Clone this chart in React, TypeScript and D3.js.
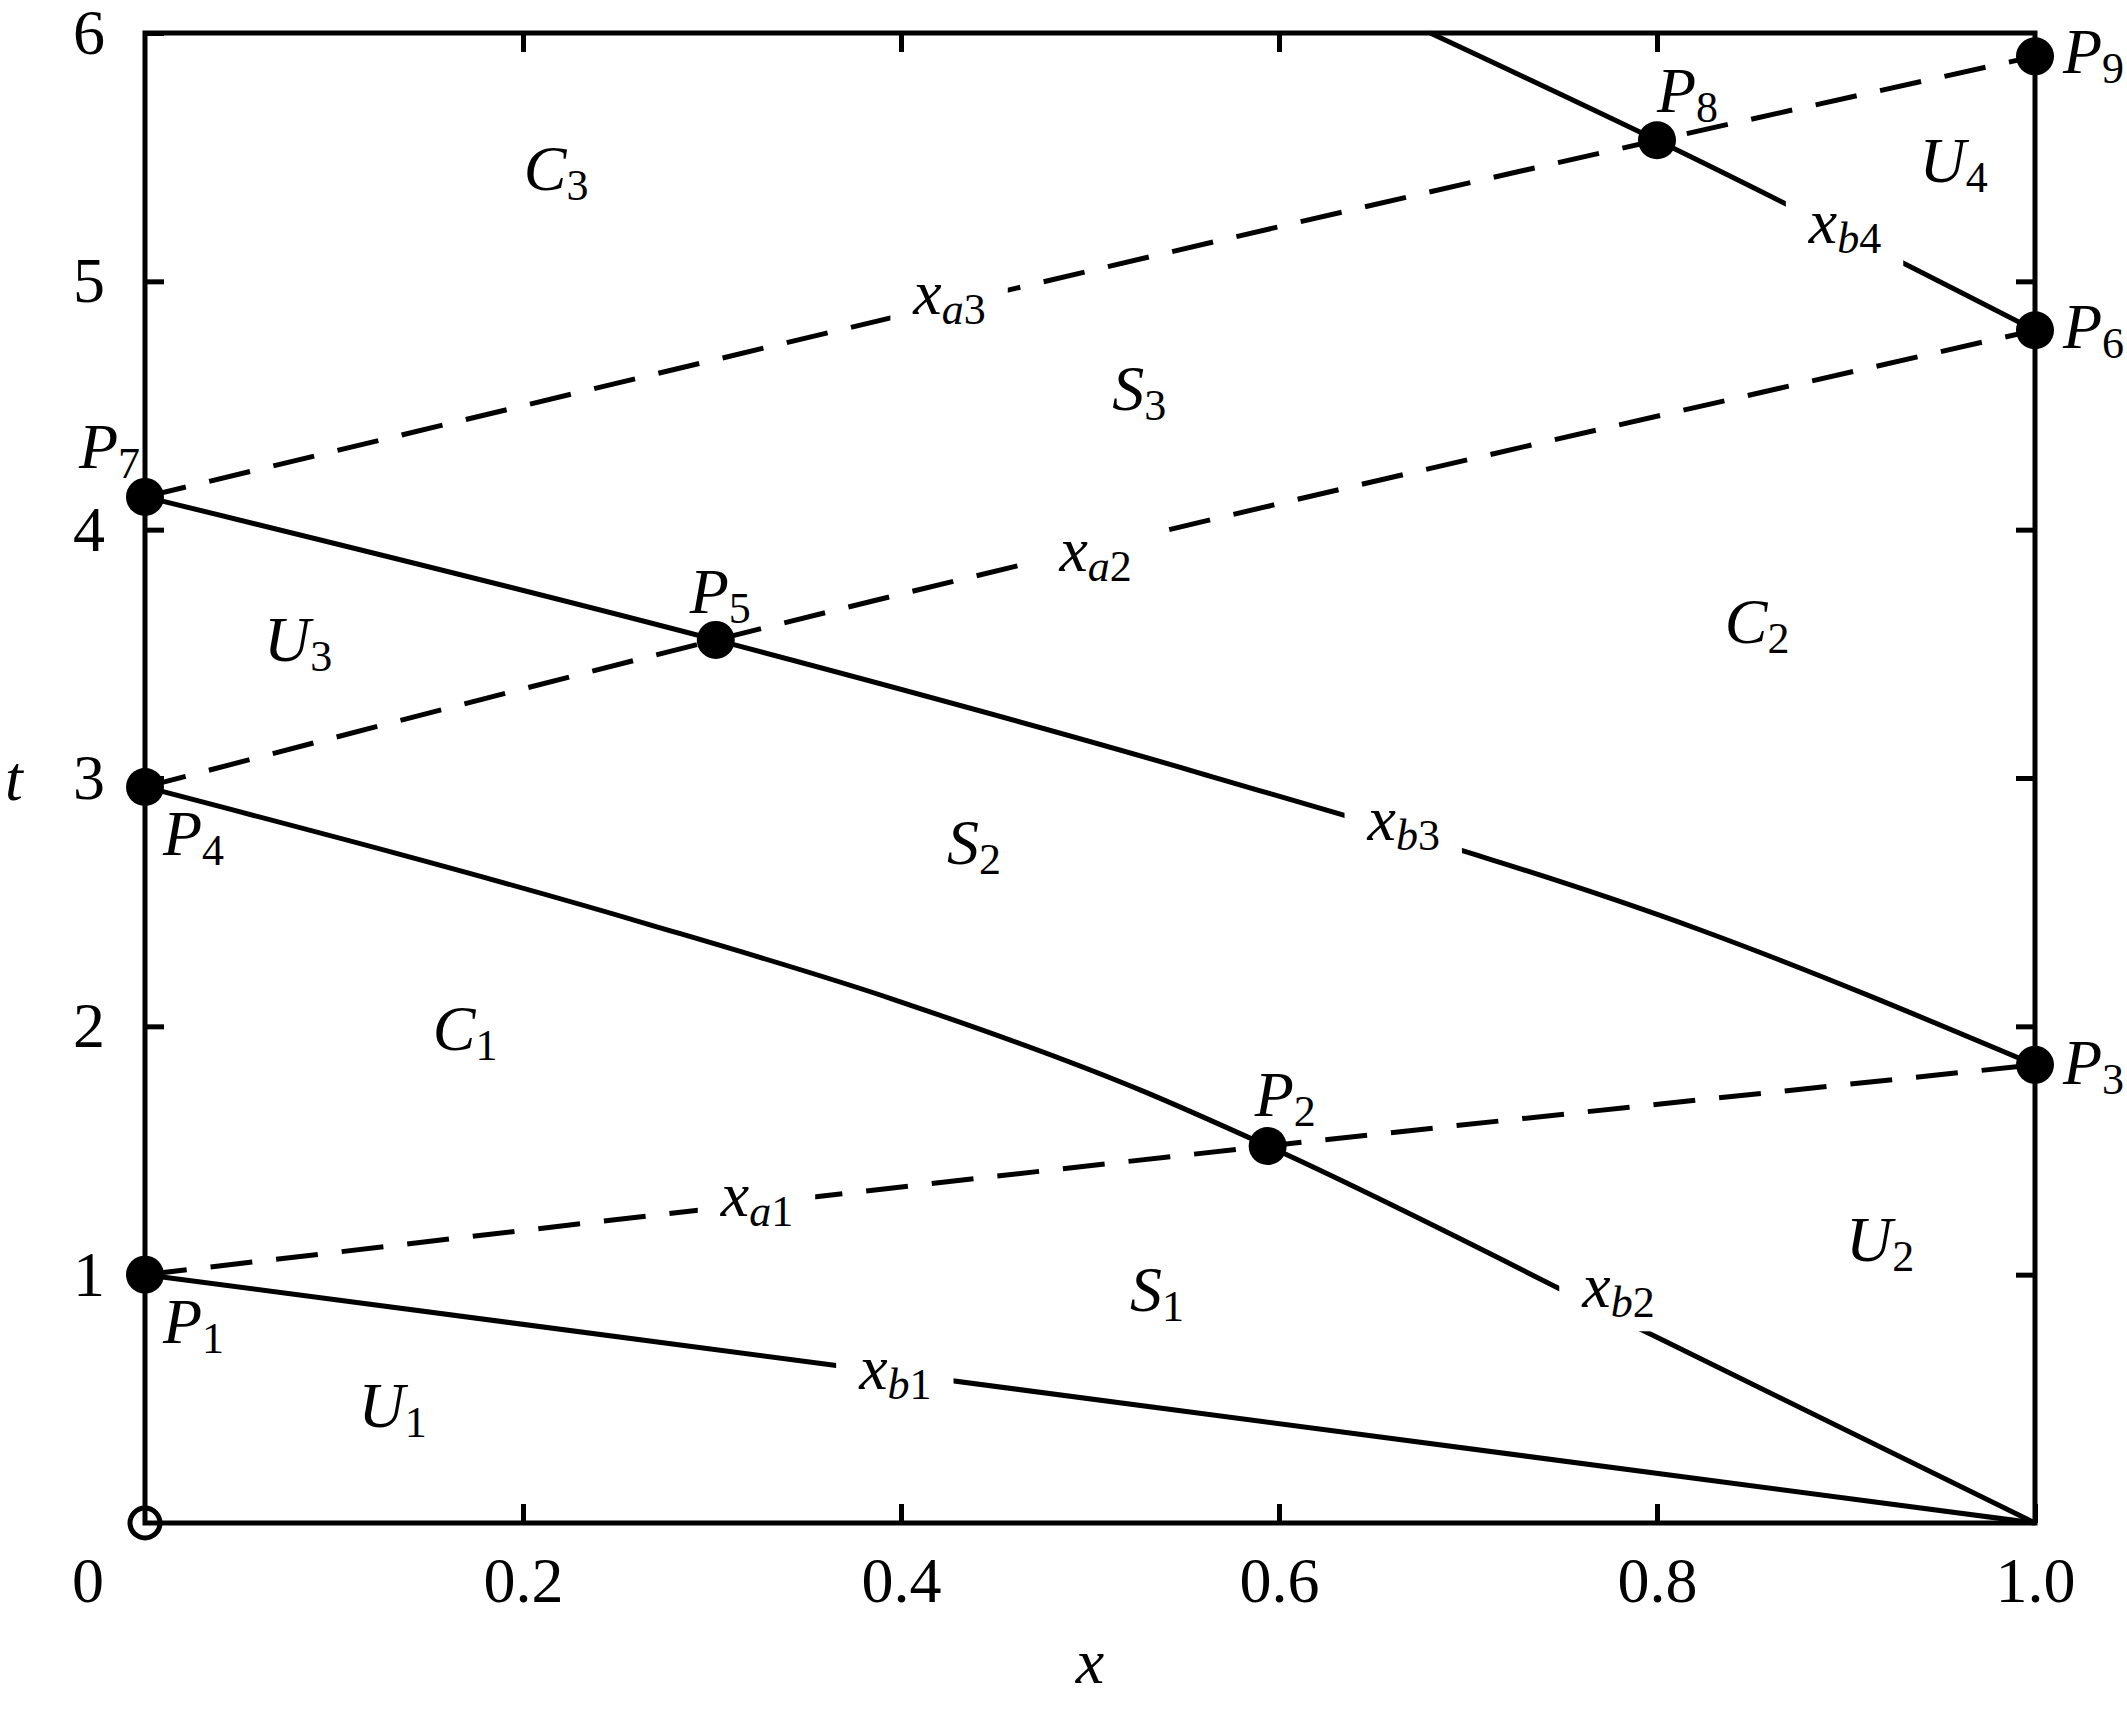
import React, { useEffect, useRef } from "react"
import * as d3 from "d3"

const WIDTH = 2127
const HEIGHT = 1709
const FONT = "'Liberation Serif', 'Times New Roman', serif"

// boundary curves as [x, t] pairs
const xb1 = [[0, 1], [1, 0]]
const xb2 = [[0, 2.964], [0.265, 2.414], [0.397, 2.106], [0.529, 1.736], [0.594, 1.518], [0.8, 0.748], [1, 0]]
const xb3 = [[0, 4.132], [0.302, 3.556], [0.558, 3.02], [0.823, 2.388], [1, 1.845]]
const xb4 = [[0.68, 6], [0.8, 5.568], [1, 4.803]]
const xa1 = [[0, 1], [0.594, 1.518], [1, 1.845]]
const xa2 = [[0, 2.964], [0.302, 3.556], [1, 4.803]]
const xa3 = [[0, 4.132], [0.8, 5.568], [1, 5.906]]

const solidCurves = [xb1, xb2, xb3, xb4]
const dashedCurves = [xa1, xa2, xa3]

// intersection points P1..P9
const pointNames = ["1", "2", "3", "4", "5", "6", "7", "8", "9"]
const pointX = [0, 0.594, 1, 0, 0.302, 1, 0, 0.8, 1]
const pointT = [1, 1.518, 1.845, 2.964, 3.556, 4.803, 4.132, 5.568, 5.906]

// region names and where they sit
const regionLetters = ["U", "S", "C", "U", "S", "C", "U", "S", "C", "U"]
const regionSubs = ["1", "1", "1", "2", "2", "2", "3", "3", "3", "4"]
const regionX = [0.131, 0.5355, 0.1694, 0.918, 0.4386, 0.853, 0.081, 0.526, 0.2175, 0.957]
const regionT = [0.453, 0.917, 1.971, 1.12, 2.718, 3.608, 3.537, 4.547, 5.431, 5.465]

// curve labels x_{b1} ... sitting in gaps of the lines
const curveLabelLetters = ["b", "b", "b", "b", "a", "a", "a"]
const curveLabelSubs = ["1", "2", "3", "4", "1", "2", "3"]
const curveLabelX = [0.397, 0.7796, 0.666, 0.8995, 0.3238, 0.503, 0.4257]
const curveLabelT = [0.5895, 0.917, 2.8, 5.202, 1.283, 3.881, 4.918]

const xTicks = [0.2, 0.4, 0.6, 0.8, 1.0]
const xTicksTop = [0.2, 0.4, 0.6, 0.8]
const yTicks = [1, 2, 3, 4, 5, 6]
const yTicksRight = [1, 2, 3, 4, 5]

// point label offsets (text start, baseline) from the dot, in px
const pointLabelOffset = [
	[18, 68],
	[-13, -30],
	[28, 19],
	[18, 68],
	[-26, -27],
	[28, 18],
	[-66, -29],
	[0, -28],
	[28, 17],
]

const App = () => {
	const ref = useRef(null)

	useEffect(() => {
		document.body.style.margin = "0"

		const marginTop = 33
		const marginRight = 92
		const marginBottom = 186
		const marginLeft = 145
		const tick = 19
		const big = 64
		const small = 44

		const svg = d3.select(ref.current)
		svg.selectAll("*").remove()

		const x = d3
			.scaleLinear()
			.domain([0, 1])
			.range([marginLeft, WIDTH - marginRight])
		const y = d3
			.scaleLinear()
			.domain([0, 6])
			.range([HEIGHT - marginBottom, marginTop])

		// text with italic letter and a subscript
		const subText = (g, px, py, letter, subItalic, subDigit, anchor) => {
			const text = g
				.append("text")
				.attr("x", px)
				.attr("y", py)
				.attr("text-anchor", anchor)
				.style("font-family", FONT)
				.style("font-size", big + "px")
				.attr("fill", "#000")
			text.append("tspan").style("font-style", "italic").text(letter)
			if (subItalic) {
				text
					.append("tspan")
					.attr("dy", 10)
					.style("font-size", small + "px")
					.style("font-style", "italic")
					.text(subItalic)
				text.append("tspan").style("font-size", small + "px").text(subDigit)
			} else {
				text
					.append("tspan")
					.attr("dy", 10)
					.style("font-size", small + "px")
					.text(subDigit)
			}
			return text
		}

		const line = d3
			.line()
			.x(d => x(d[0]))
			.y(d => y(d[1]))
			.curve(d3.curveMonotoneX)

		// curves
		svg
			.append("g")
			.selectAll("path")
			.data(solidCurves)
			.enter()
			.append("path")
			.attr("d", line)
			.attr("fill", "none")
			.attr("stroke", "#000")
			.attr("stroke-width", 5)

		svg
			.append("g")
			.selectAll("path")
			.data(dashedCurves)
			.enter()
			.append("path")
			.attr("d", line)
			.attr("fill", "none")
			.attr("stroke", "#000")
			.attr("stroke-width", 5)
			.attr("stroke-dasharray", "42,24")

		// curve labels with a white gap behind them
		const curveLabels = svg.append("g")
		curveLabelLetters.forEach((l, i) => {
			const grp = curveLabels.append("g")
			const t = subText(
				grp,
				x(curveLabelX[i]),
				y(curveLabelT[i]) + 12,
				"x",
				l,
				curveLabelSubs[i],
				"middle",
			)
			const bb = t.node().getBBox()
			grp
				.insert("rect", "text")
				.attr("x", bb.x - 22)
				.attr("y", bb.y - 4)
				.attr("width", bb.width + 44)
				.attr("height", bb.height + 8)
				.attr("fill", "#fff")
		})

		// region labels
		const regions = svg.append("g")
		regionLetters.forEach((l, i) => {
			subText(regions, x(regionX[i]), y(regionT[i]) + 16, l, null, regionSubs[i], "middle")
		})

		// axes, ticks inward on all sides
		const styleAxis = g => {
			g.select(".domain").remove()
			g.attr("font-family", null).attr("font-size", null)
			g.selectAll("line").attr("stroke", "#000").attr("stroke-width", 5)
			g.selectAll("text")
				.attr("fill", "#000")
				.style("font-family", FONT)
				.style("font-size", big + "px")
		}

		svg
			.append("g")
			.attr("transform", `translate(0, ${y(0)})`)
			.call(
				d3
					.axisBottom(x)
					.tickValues(xTicks)
					.tickSize(-tick)
					.tickPadding(34)
					.tickFormat(d3.format(".1f")),
			)
			.call(styleAxis)

		svg
			.append("g")
			.attr("transform", `translate(0, ${y(6)})`)
			.call(d3.axisTop(x).tickValues(xTicksTop).tickSize(-tick).tickFormat(() => ""))
			.call(styleAxis)

		svg
			.append("g")
			.attr("transform", `translate(${x(0)}, 0)`)
			.call(
				d3
					.axisLeft(y)
					.tickValues(yTicks)
					.tickSize(-tick)
					.tickPadding(40)
					.tickFormat(d3.format("d")),
			)
			.call(styleAxis)

		svg
			.append("g")
			.attr("transform", `translate(${x(1)}, 0)`)
			.call(d3.axisRight(y).tickValues(yTicksRight).tickSize(-tick).tickFormat(() => ""))
			.call(styleAxis)

		// frame
		svg
			.append("rect")
			.attr("x", x(0))
			.attr("y", y(6))
			.attr("width", x(1) - x(0))
			.attr("height", y(0) - y(6))
			.attr("fill", "none")
			.attr("stroke", "#000")
			.attr("stroke-width", 5)

		// corner zero and axis titles
		svg
			.append("text")
			.attr("x", 88)
			.attr("y", y(0) + 34 + 0.71 * big)
			.attr("text-anchor", "middle")
			.style("font-family", FONT)
			.style("font-size", big + "px")
			.text("0")

		svg
			.append("text")
			.attr("x", (x(0) + x(1)) / 2)
			.attr("y", 1683)
			.attr("text-anchor", "middle")
			.style("font-family", FONT)
			.style("font-style", "italic")
			.style("font-size", big + "px")
			.text("x")

		svg
			.append("text")
			.attr("x", 14)
			.attr("y", (y(0) + y(6)) / 2 + 22)
			.attr("text-anchor", "middle")
			.style("font-family", FONT)
			.style("font-style", "italic")
			.style("font-size", big + "px")
			.text("t")

		// origin marker
		svg
			.append("circle")
			.attr("cx", x(0))
			.attr("cy", y(0))
			.attr("r", 15)
			.attr("fill", "none")
			.attr("stroke", "#000")
			.attr("stroke-width", 5)

		// points P1..P9
		const pts = svg.append("g")
		pointNames.forEach((n, i) => {
			const cx = x(pointX[i])
			const cy = y(pointT[i])
			pts.append("circle").attr("cx", cx).attr("cy", cy).attr("r", 19).attr("fill", "#000")
			subText(
				pts,
				cx + pointLabelOffset[i][0],
				cy + pointLabelOffset[i][1],
				"P",
				null,
				n,
				"start",
			)
		})
	}, [])

	return (
		<svg
			ref={ref}
			width={WIDTH}
			height={HEIGHT}
			style={{ display: "block", background: "#fff" }}
		></svg>
	)
}

export default App
